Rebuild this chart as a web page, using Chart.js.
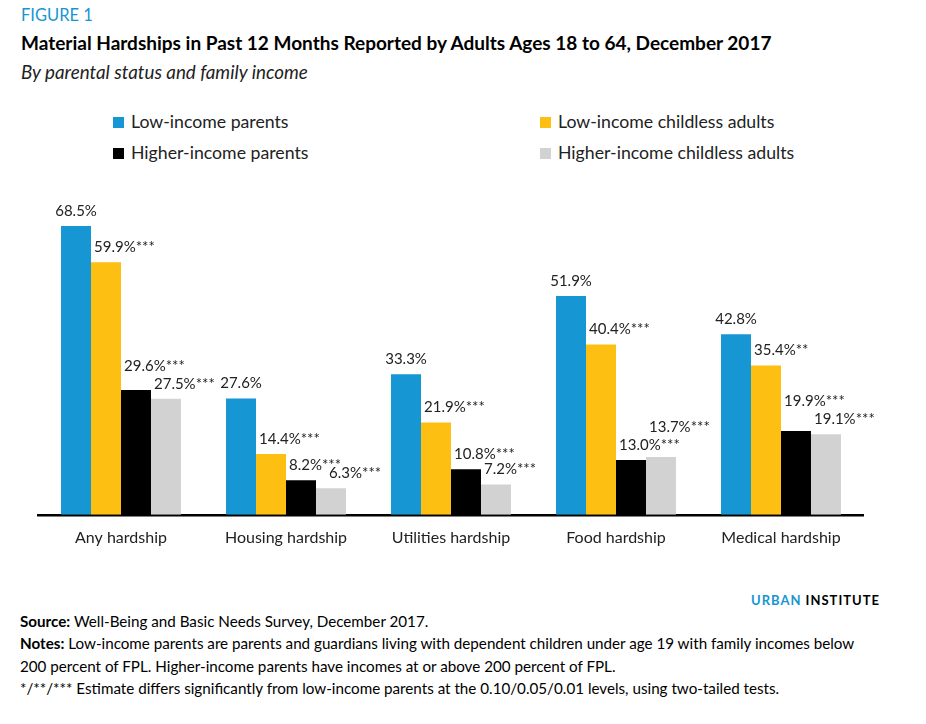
<!DOCTYPE html>
<html>
<head>
<meta charset="utf-8">
<script src="https://cdn.jsdelivr.net/npm/chart.js@4.4.1/dist/chart.umd.min.js"></script>
<style>
  html, body { margin: 0; padding: 0; background: #fff; }
  body { width: 926px; height: 724px; position: relative; overflow: hidden; font-family: Lato, "Open Sans", sans-serif; color: #000; }
  .abs { position: absolute; white-space: nowrap; }
  #fig { left: 21px; top: 5px; font-size: 16.5px; color: #1696d2; }
  #title { left: 21px; top: 31px; font-size: 19px; font-weight: bold; color: #000; }
  #subtitle { left: 21px; top: 60px; font-size: 18.8px; font-style: italic; color: #222; }
  .leg { position: absolute; font-size: 17.7px; color: #222; line-height: 20px; }
  .leg i { display: inline-block; width: 11px; height: 11px; margin-right: 7px; vertical-align: 0px; }
  #chartbox { position: absolute; left: 0; top: 170px; width: 926px; height: 390px; }
  #brand { right: 46px; top: 592px; font-size: 13px; font-weight: bold; letter-spacing: 1px; }
  #brand span { color: #1696d2; }
  .note { left: 20px; font-size: 15.2px; color: #000; }
</style>
</head>
<body>
<div id="fig" class="abs">FIGURE 1</div>
<div id="title" class="abs">Material Hardships in Past 12 Months Reported by Adults Ages 18 to 64, December 2017</div>
<div id="subtitle" class="abs">By parental status and family income</div>
<div id="legend"></div>
<div id="chartbox"><canvas id="chart"></canvas></div>
<div id="brand" class="abs"><span>URBAN</span> INSTITUTE</div>
<div class="abs note" style="top:612px"><b>Source:</b> Well-Being and Basic Needs Survey, December 2017.</div>
<div class="abs note" style="top:634px"><b>Notes:</b> Low-income parents are parents and guardians living with dependent children under age 19 with family incomes below</div>
<div class="abs note" style="top:657px">200 percent of FPL. Higher-income parents have incomes at or above 200 percent of FPL.</div>
<div class="abs note" style="top:679px">*/**/*** Estimate differs significantly from low-income parents at the 0.10/0.05/0.01 levels, using two-tailed tests.</div>

<script>
const categories = ["Any hardship", "Housing hardship", "Utilities hardship", "Food hardship", "Medical hardship"];
const seriesNames = ["Low-income parents", "Low-income childless adults", "Higher-income parents", "Higher-income childless adults"];
const seriesColors = ["#1696d2", "#fdbf11", "#000000", "#d2d2d2"];

const lowIncomeParents = [68.5, 27.6, 33.3, 51.9, 42.8];
const lowIncomeChildless = [59.9, 14.4, 21.9, 40.4, 35.4];
const higherIncomeParents = [29.6, 8.2, 10.8, 13.0, 19.9];
const higherIncomeChildless = [27.5, 6.3, 7.2, 13.7, 19.1];

// significance stars next to each value
const lowIncomeParentsStars = ["", "", "", "", ""];
const lowIncomeChildlessStars = ["***", "***", "***", "***", "**"];
const higherIncomeParentsStars = ["***", "***", "***", "***", "***"];
const higherIncomeChildlessStars = ["***", "***", "***", "***", "***"];

const seriesValues = [lowIncomeParents, lowIncomeChildless, higherIncomeParents, higherIncomeChildless];
const seriesStars = [lowIncomeParentsStars, lowIncomeChildlessStars, higherIncomeParentsStars, higherIncomeChildlessStars];

// legend, two columns
const legendSpots = [[113, 112], [540, 112], [113, 143], [540, 143]];
document.getElementById("legend").innerHTML = seriesNames
  .map((name, i) => `<div class="leg" style="left:${legendSpots[i][0]}px;top:${legendSpots[i][1]}px"><i style="background:${seriesColors[i]}"></i>${name}</div>`)
  .join("");

const LABEL_FONT = "15px Lato, 'Open Sans', sans-serif";

const valueLabels = {
  id: "valueLabels",
  afterDatasetsDraw(chart) {
    const ctx = chart.ctx;
    ctx.save();
    ctx.font = LABEL_FONT;
    ctx.fillStyle = "#222";
    ctx.textBaseline = "middle";
    categories.forEach((cat, j) => {
      const boxes = chart.data.datasets.map((ds, i) => {
        const bar = chart.getDatasetMeta(i).data[j];
        const text = ds.data[j].toFixed(1) + "%" + seriesStars[i][j];
        const w = ctx.measureText(text).width;
        const left = i === 0 ? bar.x - w / 2 : bar.x - 12;
        return { text, left, w, right: left + w, y: bar.y - 15, v: ds.data[j] };
      });
      // neighbouring labels that run into each other: lift the taller one,
      // or nudge the next one right when they only touch a little
      for (let i = 1; i < boxes.length - 1; i++) {
        const a = boxes[i], b = boxes[i + 1];
        const overlap = a.right - b.left;
        if (Math.abs(a.y - b.y) < 14 && overlap > 28) {
          if (a.v >= b.v) a.y = b.y - 18; else b.y = a.y - 18;
        } else if (Math.abs(a.y - b.y) < 12 && overlap > 0) {
          b.left = a.right - 12;
          b.right = b.left + b.w;
        }
      }
      boxes.forEach((b) => {
        ctx.textAlign = "left";
        ctx.fillText(b.text, b.left, b.y);
      });
    });
    ctx.restore();
  }
};

new Chart(document.getElementById("chart"), {
  type: "bar",
  data: {
    labels: categories,
    datasets: seriesNames.map((name, i) => ({
      label: name,
      data: seriesValues[i],
      backgroundColor: seriesColors[i],
      borderWidth: 0,
      barPercentage: 1.0,
      categoryPercentage: 0.727,
    })),
  },
  options: {
    responsive: true,
    maintainAspectRatio: false,
    animation: false,
    layout: { padding: { left: 38.5, right: 62.5, top: 28.5, bottom: 0 } },
    plugins: { legend: { display: false }, tooltip: { enabled: false } },
    scales: {
      x: {
        grid: { display: false, drawTicks: false },
        border: { display: true, color: "#000", width: 2.5 },
        ticks: { color: "#222", font: { family: "Lato", size: 16 }, padding: 13, maxRotation: 0 },
      },
      y: { display: false, min: 0, max: 75 },
    },
  },
  plugins: [valueLabels],
});
</script>
</body>
</html>
